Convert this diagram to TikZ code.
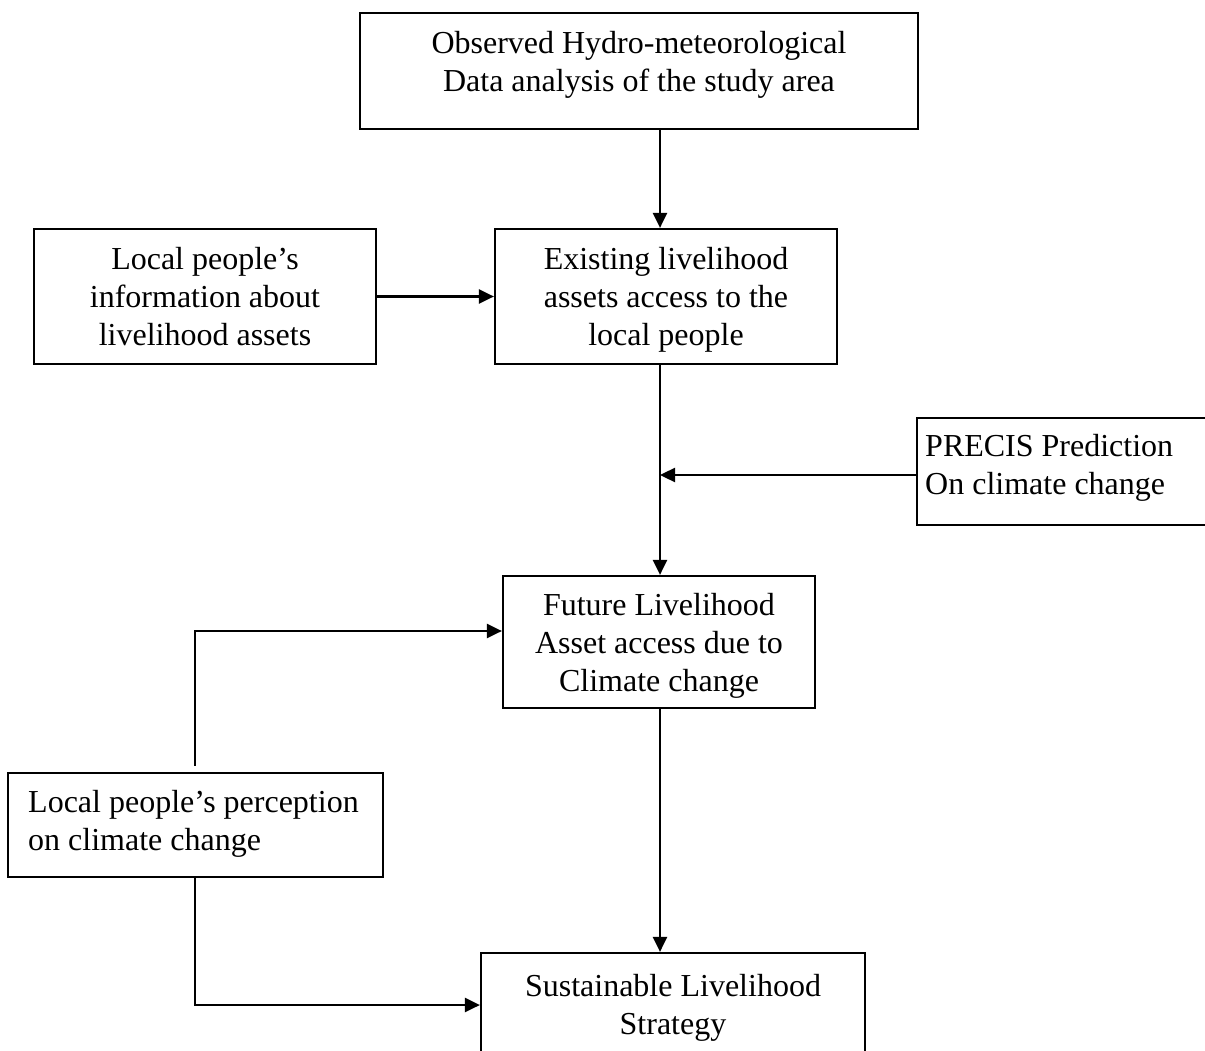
\documentclass[tikz,border=0pt]{standalone}
\usepackage{fontspec}
\setmainfont{Liberation Serif}
\usetikzlibrary{arrows.meta}

\begin{document}
\begin{tikzpicture}[x=1pt, y=-1pt,
  box/.style={draw=black, line width=2.2pt, fill=white, inner sep=0pt},
  txt/.style={font=\fontsize{32}{38}\selectfont, inner sep=0pt, align=center},
  link/.style={line width=2.4pt, draw=black},
  arr/.style={link, -{Triangle[length=15pt, width=14pt]}}
]
\useasboundingbox[fill=white] (0,0) rectangle (1205,1051);

% boxes
\node[box, minimum width=558, minimum height=116] (obs)    at (639,71)     {};
\node[box, minimum width=342, minimum height=135] (info)   at (205,296.5)  {};
\node[box, minimum width=342, minimum height=135] (exist)  at (666,296.5)  {};
\node[box, minimum width=298, minimum height=107] (precis) at (1066,471.5) {};
\node[box, minimum width=312, minimum height=132] (fut)    at (659,642)    {};
\node[box, minimum width=375, minimum height=104] (perc)   at (195.5,825)  {};
\node[box, minimum width=384, minimum height=117] (sus)    at (673,1011.5) {};

% box texts
\node[txt] (obs-t)   at (639,65)    {Observed Hydro-meteorological\\Data analysis of the study area};
\node[txt] (info-t)  at (205,297)   {Local people’s\\information about\\livelihood assets};
\node[txt] (exist-t) at (666,300)   {Existing livelihood\\assets access to the\\local people};
\node[txt, align=left, anchor=west] (precis-t) at (925,467.5) {PRECIS Prediction\\On climate change};
\node[txt] (fut-t)   at (659,645.5) {Future Livelihood\\Asset access due to\\Climate change};
\node[txt, align=left, anchor=west] (perc-t) at (28,824) {Local people’s perception\\on climate change};
\node[txt] (sus-t)   at (673,1008)  {Sustainable Livelihood\\Strategy};

% routing points
\coordinate (spine) at (660,0);
\coordinate (up)    at (195,631);
\coordinate (down)  at (195,1005);

% connectors
\draw[arr] (obs.south -| spine) -- (exist.north -| spine);
\draw[arr] (info.east) -- (exist.west);
\draw[arr] (exist.south -| spine) -- (fut.north -| spine);
\draw[arr] (precis.west |- 0,475) -- (spine |- 0,475);
\draw[arr] (fut.south -| spine) -- (sus.north -| spine);
\draw[arr] ([yshift=6pt]perc.north -| up) -- (up) -- (up -| fut.west);
\draw[arr] (perc.south -| down) -- (down) -- (down -| sus.west);
\end{tikzpicture}
\end{document}
